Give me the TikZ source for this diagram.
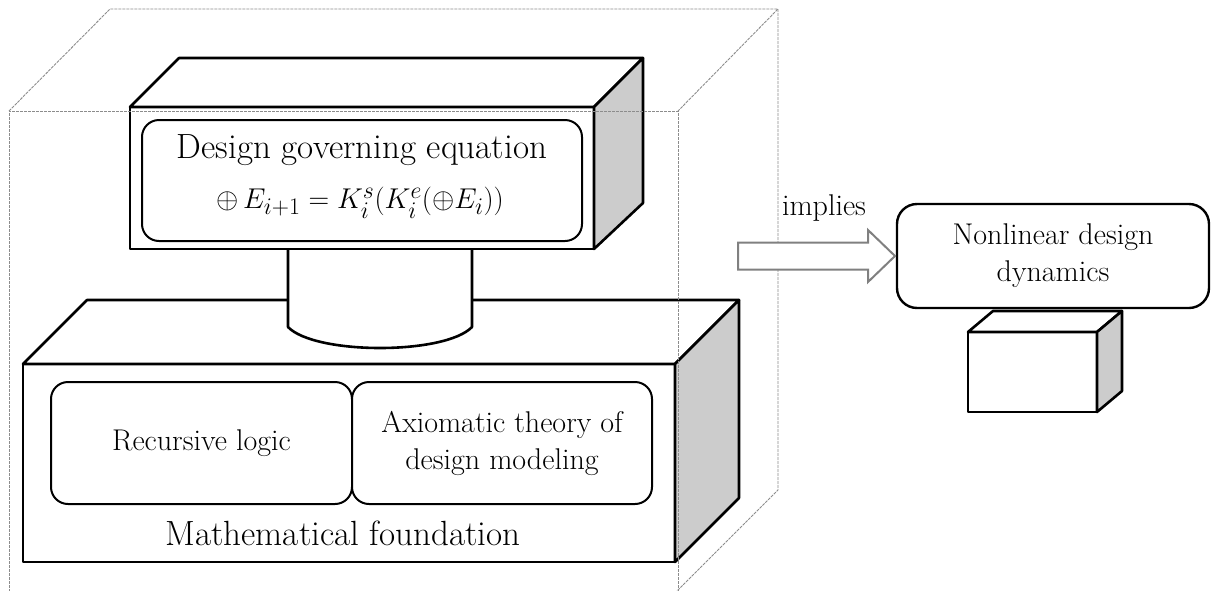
\documentclass[tikz,border=0pt]{standalone}
\usepackage{amsmath}
\usetikzlibrary{calc}
\begin{document}
\begin{tikzpicture}[x=1pt,y=-1pt,
  edge/.style={draw=black,line width=2.6pt,line join=round},
  whiteface/.style={edge,fill=white},
  greyface/.style={edge,fill=black!20},
  frontface/.style={whiteface,rectangle,inner sep=0pt,outer sep=0pt},
  roundbox/.style={draw=black,line width=2pt,fill=white,rectangle,
    rounded corners=17pt,inner sep=0pt,outer sep=0pt},
  glass/.style={draw=black!45,line width=0.9pt,dash pattern=on 3pt off 1pt},
  bigtext/.style={font=\fontsize{35}{40}\selectfont,align=center,inner sep=0pt},
  midtext/.style={font=\fontsize{30}{37}\selectfont,align=center,inner sep=0pt},
  hollowarrow/.style={draw=black!50,line width=2pt,fill=white,line join=miter}]
\useasboundingbox (0,0) rectangle (1211,590);

% ---------- foundation block ----------
\node[frontface,minimum width=652pt,minimum height=198pt] (basefront) at (349,463) {};
\draw[whiteface] (basefront.north west) -- ++(64,-64) -- ($(basefront.north east)+(64,-64)$)
  -- (basefront.north east) -- cycle;
\draw[greyface] (basefront.north east) -- ++(64,-64) -- ($(basefront.south east)+(64,-64)$)
  -- (basefront.south east) -- cycle;
\node[roundbox,minimum width=301pt,minimum height=122pt] (recbox) at (201.5,443) {};
\node[roundbox,minimum width=300pt,minimum height=122pt] (axbox) at (502,443) {};
\node[midtext] (rec) at (recbox.center) {Recursive logic};
\node[midtext] (ax) at (axbox.center) {Axiomatic theory of\\design modeling};
\node[bigtext] (found) at (343,533) {Mathematical foundation};

% ---------- connecting cylinder ----------
\draw[whiteface] (288,245) -- (288,327) .. controls (315,355) and (445,355) .. (472,327)
  -- (472,245);

% ---------- governing-equation block ----------
\node[frontface,minimum width=464pt,minimum height=142pt] (topfront) at (362,178) {};
\draw[whiteface] (topfront.north west) -- ++(49,-49) -- ($(topfront.north east)+(49,-49)$)
  -- (topfront.north east) -- cycle;
\draw[greyface] (topfront.north east) -- ++(49,-49) -- ($(topfront.south east)+(49,-46)$)
  -- (topfront.south east) -- cycle;
\node[roundbox,minimum width=440pt,minimum height=121pt] (eqbox) at (362,180.5) {};
\node[bigtext] (eqtitle) at (362,150) {Design governing equation};
% the math fonts stop at 24.88pt, so the formula is enlarged as a whole
\node[inner sep=0pt] (eq) at (360,203)
  {\scalebox{1.15}{\fontsize{24.88}{30}\selectfont$\oplus\,E_{i+1} = K_i^{s}(K_i^{e}(\oplus E_i))$}};

% ---------- transparent enclosing box ----------
\draw[glass] (9,592) -- (9,111) -- (678,111) -- (678,592);
\draw[glass] (9,111) -- (110,9) -- (778,9) -- (678,111);
\draw[glass] (778,9) -- (778,490) -- (676,592);

% ---------- result ----------
\node[frontface,minimum width=129pt,minimum height=80pt] (smallfront) at (1032.5,372) {};
\draw[whiteface] (smallfront.north west) -- ++(25,-21) -- ($(smallfront.north east)+(25,-21)$)
  -- (smallfront.north east) -- cycle;
\draw[greyface] (smallfront.north east) -- ++(25,-21) -- ($(smallfront.south east)+(25,-21)$)
  -- (smallfront.south east) -- cycle;
\node[roundbox,line width=2.4pt,rounded corners=20pt,minimum width=312pt,minimum height=104pt]
  (nl) at (1053,256) {};
\node[midtext] (nltext) at (nl.center) {Nonlinear design\\dynamics};

% ---------- implication arrow ----------
\coordinate (atail) at (738,256);
\coordinate (atip) at ($(nl.west)+(-2,0)$);
\draw[hollowarrow] ($(atail)+(0,-13.5)$) -- ($(atip)+(-27,-13.5)$) -- ($(atip)+(-27,-26)$)
  -- (atip) -- ($(atip)+(-27,26)$) -- ($(atip)+(-27,13.5)$) -- ($(atail)+(0,13.5)$) -- cycle;
\node[midtext] (impl) at (824,208) {implies};
\end{tikzpicture}
\end{document}
